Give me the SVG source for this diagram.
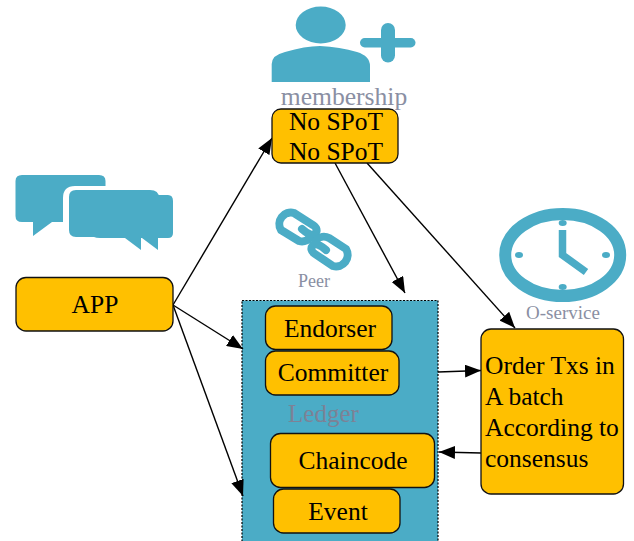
<svg xmlns="http://www.w3.org/2000/svg" width="634" height="541" viewBox="0 0 634 541">
<style>
.box{fill:#ffc000;stroke:#111;stroke-width:1.3}
.ic{fill:#4bacc6}
.t{font-family:"Liberation Serif",serif;font-size:25.500px;fill:#000}
.g{font-family:"Liberation Serif",serif;fill:#8a8fa3}
.c{fill:none;stroke:#000;stroke-width:1.4;marker-end:url(#a)}
</style>
<defs><marker id="a" markerUnits="userSpaceOnUse" markerWidth="17" markerHeight="13" refX="16" refY="6.500" orient="auto"><path d="M0 0L16 6.500L0 13Z" fill="#000"/></marker></defs>
<rect width="634" height="541" fill="#fff"/>
<g id="membership-icon">
<ellipse class="ic" cx="320.7" cy="25" rx="25" ry="18.5"/>
<path class="ic" d="M271.7 82V64Q272 55 285 52Q305 46 320 46Q340 47 357 52Q370 56 370 66V82Z"/>
<rect class="ic" x="360" y="38" width="55.500" height="9.500" rx="4.700"/>
<rect class="ic" x="381" y="23" width="14" height="39.500" rx="7"/>
<text class="g" x="344" y="104.500" font-size="25.600" text-anchor="middle">membership</text>
</g>
<g id="chat-icon">
<path class="ic" d="M22 175H99Q105.500 175 105.500 181V186H75Q63 186 63 198V222H52L33 236V222H22Q15.500 222 15.500 216V181Q15.500 175 22 175Z"/>
<path class="ic" d="M158 195H168Q173 195 173 201V233Q173 238 168 238H158V250L142 238H140V210Z"/>
<path class="ic" d="M76 190H150Q159 190 159 198V238H141V250L125 238H100Q96 238 94 237H76Q69 237 69 230V197Q69 190 76 190Z"/>
</g>
<g id="peer-icon">
<g fill="none" stroke="#4bacc6" stroke-width="8" stroke-linecap="round">
<path d="M312 235A11 11 0 0 1 299 241L281 230A11.500 11.500 0 0 1 294 213L313 225Q319 229 315 234Q311 237 302 229"/>
<path d="M316 240A11 11 0 0 1 329 238L346 249A11.500 11.500 0 0 1 333 266L315 254Q309 250 313 245Q317 242 326 250"/>
</g>
<text class="g" x="314" y="287" font-size="18" text-anchor="middle">Peer</text>
</g>
<g id="clock-icon">
<ellipse cx="562.700" cy="255" rx="57.500" ry="41" fill="#fff" stroke="#4bacc6" stroke-width="12"/>
<g class="ic"><ellipse cx="562.700" cy="223" rx="4" ry="3"/><ellipse cx="562.700" cy="287" rx="4" ry="3"/><ellipse cx="519" cy="255" rx="4" ry="3"/><ellipse cx="606" cy="255" rx="4" ry="3"/></g>
<path d="M562.500 230V255L586 272" fill="none" stroke="#4bacc6" stroke-width="7.500"/>
<text class="g" x="563" y="319" font-size="19" text-anchor="middle">O-service</text>
</g>
<g id="peer-container">
<rect x="242" y="300.500" width="196" height="250" fill="#4bacc6" stroke="#000" stroke-width="1.200" stroke-dasharray="2 1.500"/>
<text x="323.500" y="422" font-family="Liberation Serif,serif" font-size="25" fill="#7d8296" text-anchor="middle">Ledger</text>
</g>
<g id="connectors">
<path class="c" d="M173 305L272 138"/>
<path class="c" d="M173 305L243 349"/>
<path class="c" d="M173 305L243 496"/>
<path class="c" d="M335 163L405 293"/>
<path class="c" d="M367 163L515 328"/>
<path class="c" d="M438 372L481 370.500"/>
<path class="c" d="M481 453L439 452"/>
</g>
<g id="no-spot"><rect class="box" x="272" y="109" width="126" height="54" rx="9"/>
<text class="t" x="336" y="129.500" text-anchor="middle">No SPoT</text><text class="t" x="336" y="160" text-anchor="middle">No SPoT</text></g>
<g id="app"><rect class="box" x="16" y="277.500" width="157" height="53.500" rx="10"/><text class="t" x="95" y="313" text-anchor="middle">APP</text></g>
<g id="endorser"><rect class="box" x="265.500" y="306" width="126.500" height="43.500" rx="10"/><text class="t" x="330" y="337" text-anchor="middle">Endorser</text></g>
<g id="committer"><rect class="box" x="265.500" y="351" width="133.500" height="44" rx="10"/><text class="t" x="333" y="381" text-anchor="middle">Committer</text></g>
<g id="chaincode"><rect class="box" x="270.500" y="433.500" width="164" height="54" rx="10"/><text class="t" x="353" y="468.500" text-anchor="middle">Chaincode</text></g>
<g id="event"><rect class="box" x="273.500" y="489" width="126.500" height="44" rx="10"/><text class="t" x="338" y="520" text-anchor="middle">Event</text></g>
<g id="order"><rect class="box" x="481" y="329" width="142.500" height="165" rx="10"/>
<text class="t"><tspan x="485" y="374">Order Txs in</tspan><tspan x="485" y="405">A batch</tspan><tspan x="485" y="436">According to</tspan><tspan x="485" y="466.500">consensus</tspan></text></g>
</svg>
